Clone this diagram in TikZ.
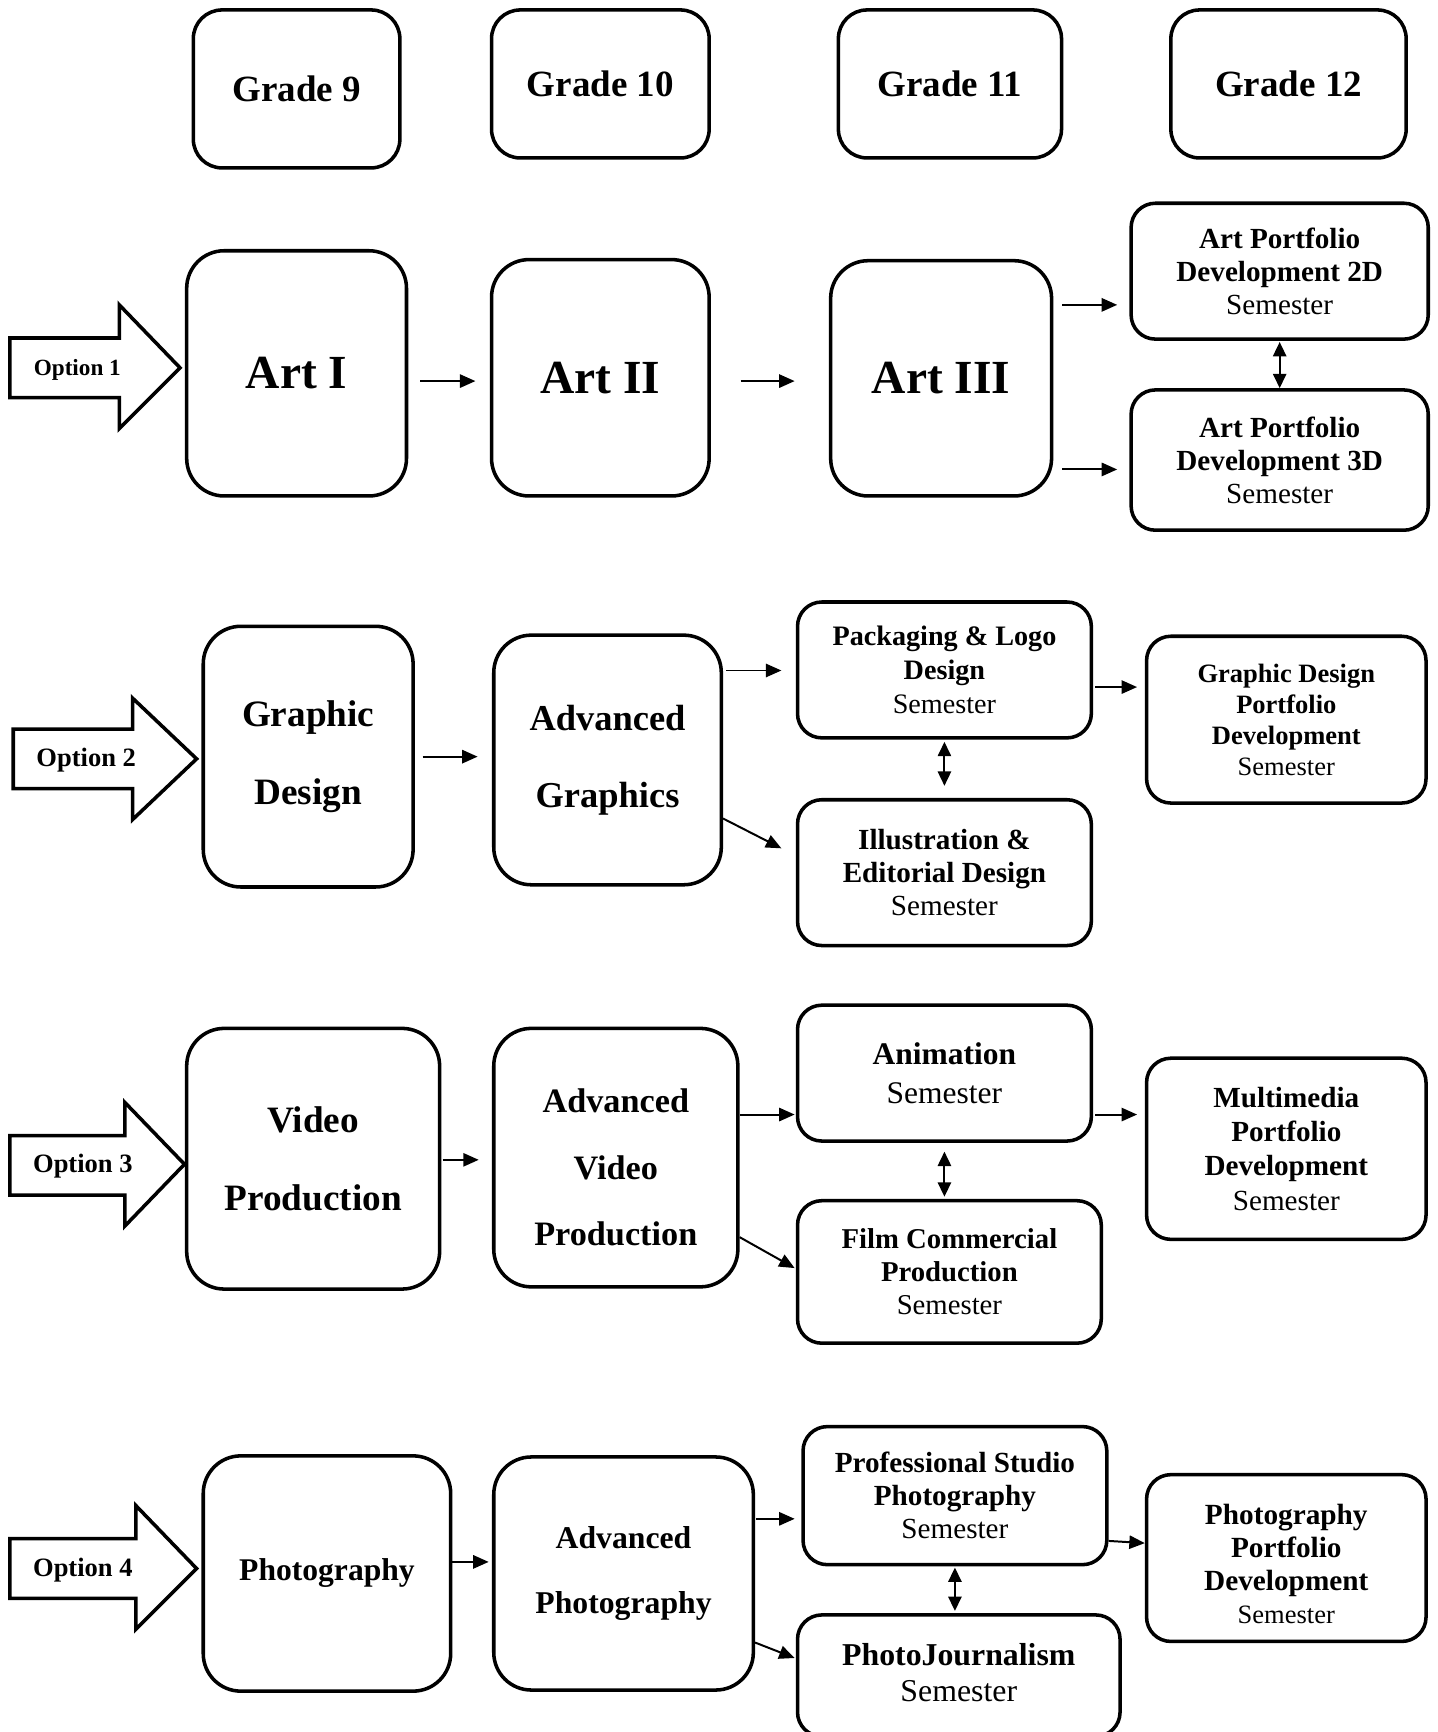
\documentclass[tikz,border=0pt]{standalone}
\usepackage{fontspec}
\setmainfont{Liberation Serif}
\usetikzlibrary{arrows.meta,calc}
\tikzset{
  box/.style={draw, line width=3.2pt, rounded corners=22pt, align=center, inner sep=0pt},
  bigbox/.style={box, rounded corners=34pt},
  gradebox/.style={box, rounded corners=26pt},
  fs/.style 2 args={font=\bfseries\fontsize{#1}{#2}\selectfont},
  txt/.style={align=center, inner sep=0pt},
  conn/.style={line width=1.8pt, -{Triangle[length=14pt,width=12pt]}},
  dconn/.style={line width=1.8pt, {Triangle[length=13pt,width=12pt]}-{Triangle[length=13pt,width=12pt]}},
  fat/.style={draw, line width=3.2pt, line join=miter},
  opt/.style={font=\bfseries\fontsize{#1}{#1}\selectfont, inner sep=0pt}
}
\newcommand{\sem}{\mdseries Semester}
\begin{document}
\begin{tikzpicture}[x=1pt, y=-1pt]
\useasboundingbox (0,0) rectangle (1301,1568);
\fill[white] (0,0) rectangle (1301,1568);

% grade headers
\node[gradebox, fs={33.5pt}{40pt}, minimum width=187pt, minimum height=143pt] (g9) at (268.5,80.5) {Grade 9};
\node[gradebox, fs={33.5pt}{40pt}, minimum width=197pt, minimum height=134pt] (g10) at (543.5,76) {Grade 10};
\node[gradebox, fs={33.5pt}{40pt}, minimum width=202pt, minimum height=134pt] (g11) at (860,76) {Grade 11};
\node[gradebox, fs={33.5pt}{40pt}, minimum width=213pt, minimum height=134pt] (g12) at (1166.5,76) {Grade 12};

% ---------- Option 1 ----------
\draw[fat] (9,306) -- (108,306) -- (108,276) -- (163,333) -- (108,388) -- (108,360) -- (9,360) -- cycle;
\node[opt=21pt] (opt1) at (70,335) {Option 1};
\node[bigbox, fs={43pt}{50pt}, minimum width=199pt, minimum height=222pt] (art1) at (268.5,338) {Art I};
\node[bigbox, fs={43pt}{50pt}, minimum width=197pt, minimum height=214pt] (art2) at (543.5,342) {Art II};
\node[bigbox, fs={43pt}{50pt}, minimum width=200pt, minimum height=213pt] (art3) at (852,342.5) {Art III};
\node[box, fs={26.4pt}{30pt}, minimum width=269pt, minimum height=123pt] (apd2) at (1158.5,245.5) {Art Portfolio\\Development 2D\\\sem};
\node[box, fs={26.4pt}{30pt}, minimum width=269pt, minimum height=127pt] (apd3) at (1158.5,416.5) {Art Portfolio\\Development 3D\\\sem};

\draw[conn, shorten <=11pt, shorten >=13pt] (art1.east |- 0,345) -- (art2.west |- 0,345);
\draw[conn, shorten <=27pt, shorten >=31pt] (art2.east |- 0,345) -- (art3.west |- 0,345);
\draw[conn, shorten <=8pt, shorten >=11pt] (art3.east |- 0,276) -- (apd2.west |- 0,276);
\draw[conn, shorten <=8pt, shorten >=11pt] (art3.east |- 0,425) -- (apd3.west |- 0,425);
\draw[dconn, shorten <=1pt] (apd2.south) -- (apd3.north);

% ---------- Option 2 ----------
\draw[fat] (12,660) -- (120,660) -- (120,632) -- (178,687) -- (120,742) -- (120,714) -- (12,714) -- cycle;
\node[opt=24pt] (opt2) at (78,688) {Option 2};
\node[bigbox, fs={33.7pt}{70pt}, minimum width=190pt, minimum height=236pt] (gd) at (279,685) {Graphic\\Design};
\node[bigbox, fs={33pt}{70pt}, minimum width=206pt, minimum height=226pt] (ag) at (550,688) {Advanced\\Graphics};
\node[box, fs={25.5pt}{30.5pt}, minimum width=266pt, minimum height=123pt] (pack) at (855,606.5) {Packaging \& Logo\\Design\\\sem};
\node[box, fs={26.4pt}{30pt}, minimum width=266pt, minimum height=132pt] (ill) at (855,790) {Illustration \&\\Editorial Design\\\sem};
\node[box, fs={24pt}{28pt}, minimum width=253pt, minimum height=151pt] (gdpd) at (1164.5,651.5) {Graphic Design\\Portfolio\\Development\\\sem};

\draw[conn, shorten <=7pt, shorten >=13pt] (gd.east |- 0,685) -- (ag.west |- 0,685);
\draw[conn, shorten <=3pt, shorten >=13pt] (ag.east |- 0,607) -- (pack.west |- 0,607);
\draw[conn] (ag.east |- 0,741) -- ($(ill.west |- 0,768)+(-13,0)$);
\draw[dconn, shorten <=2pt, shorten >=11pt] (pack.south) -- (ill.north);
\draw[conn, shorten <=2pt, shorten >=7pt] (pack.east |- 0,622) -- (gdpd.west |- 0,622);

% ---------- Option 3 ----------
\draw[fat] (9,1028) -- (113,1028) -- (113,998) -- (167,1054) -- (113,1110) -- (113,1082) -- (9,1082) -- cycle;
\node[opt=24pt] (opt3) at (75,1056) {Option 3};
\node[bigbox, fs={33.7pt}{70pt}, minimum width=229pt, minimum height=236pt] (vp) at (283.5,1049) {Video\\Production};
\node[bigbox, minimum width=221pt, minimum height=234pt] (avp) at (557.5,1048) {};
\node[txt, fs={31pt}{60pt}] (avpt) at (557.5,1057) {Advanced\\Video\\Production};
\node[box, fs={28.5pt}{35pt}, minimum width=266pt, minimum height=123pt] (anim) at (855,971.5) {Animation\\\sem};
\node[box, fs={26pt}{30pt}, minimum width=275pt, minimum height=129pt] (film) at (859.5,1151.5) {Film Commercial\\Production\\\sem};
\node[box, fs={26.4pt}{31pt}, minimum width=253pt, minimum height=164pt] (mm) at (1164.5,1040) {Multimedia\\Portfolio\\Development\\\sem};

\draw[conn, shorten <=1pt, shorten >=12pt] (vp.east |- 0,1050) -- (avp.west |- 0,1050);
\draw[conn, shorten >=1pt] (avp.east |- 0,1009) -- (anim.west |- 0,1009);
\draw[conn] (avp.east |- 0,1120) -- ($(film.west |- 0,1148)+(-1,0)$);
\draw[dconn, shorten <=8pt, shorten >=2pt] (anim.south) -- (anim.south |- film.north);
\draw[conn, shorten <=2pt, shorten >=7pt] (anim.east |- 0,1009) -- (mm.west |- 0,1009);

% ---------- Option 4 ----------
\draw[fat] (9,1393) -- (123,1393) -- (123,1363) -- (178,1420) -- (123,1475) -- (123,1447) -- (9,1447) -- cycle;
\node[opt=24pt] (opt4) at (75,1421) {Option 4};
\node[bigbox, fs={28.6pt}{35pt}, minimum width=224pt, minimum height=213pt] (photo) at (296,1424.5) {Photography};
\node[bigbox, fs={28.7pt}{59pt}, minimum width=235pt, minimum height=211pt] (ap) at (564.5,1424.5) {Advanced\\Photography};
\node[box, fs={26.4pt}{30pt}, minimum width=275pt, minimum height=125pt] (pro) at (864.5,1354) {Professional Studio\\Photography\\\sem};
\node[box, minimum width=292pt, minimum height=110pt] (pj) at (868,1517) {};
\node[txt, fs={28.8pt}{33pt}] (pjt) at (868,1514) {PhotoJournalism\\\sem};
\node[box, minimum width=253pt, minimum height=151pt] (ppd) at (1164.5,1410.5) {};
\node[txt, fs={26.5pt}{30pt}] (ppdt) at (1164.5,1416) {Photography\\Portfolio\\Development\\{\mdseries\fontsize{24pt}{29pt}\selectfont Semester}};

\draw[conn, shorten >=3pt] (photo.east |- 0,1414) -- (ap.west |- 0,1414);
\draw[conn, shorten <=1pt, shorten >=6pt] (ap.east |- 0,1375) -- (pro.west |- 0,1375);
\draw[conn] (ap.east |- 0,1487) -- ($(pj.west |- 0,1501)+(-1,0)$);
\draw[dconn, shorten <=1pt, shorten >=2pt] (pro.south) -- (pro.south |- pj.north);
\draw[conn] (pro.east |- 0,1395) -- (ppd.west |- 0,1397);
\end{tikzpicture}
\end{document}
